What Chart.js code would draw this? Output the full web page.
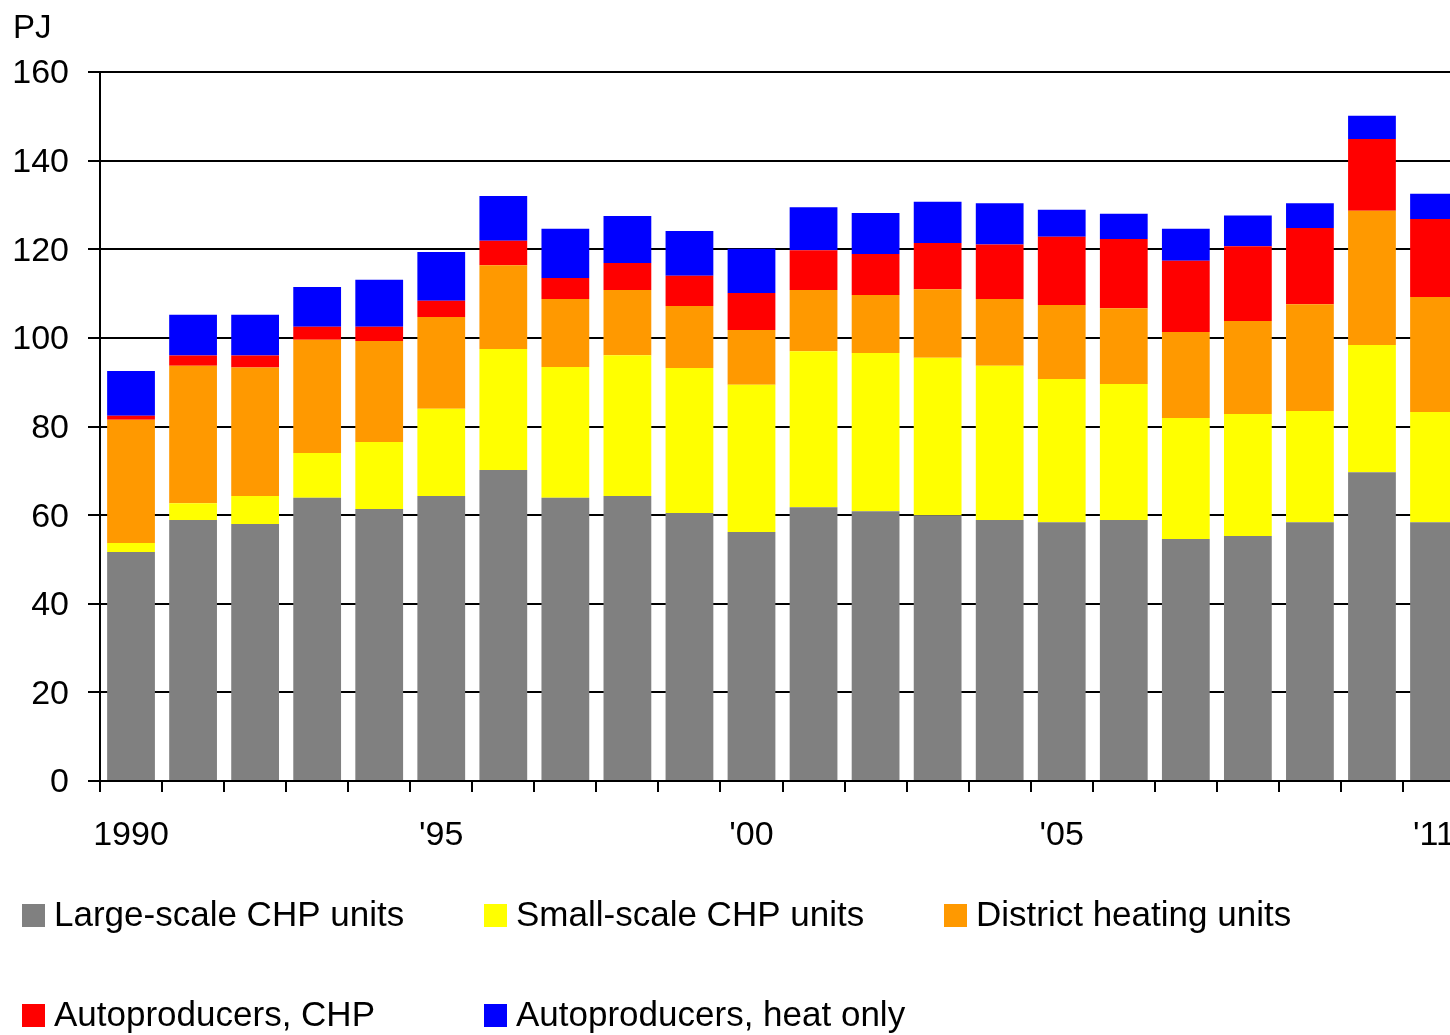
<!DOCTYPE html>
<html>
<head>
<meta charset="utf-8">
<title>Heat production by producer type, 1990–2011</title>
<script src="https://cdn.jsdelivr.net/npm/chart.js@4/dist/chart.umd.min.js"></script>
<style>
  html, body { margin: 0; padding: 0; background: #fff; overflow: hidden; }
  #wrap { width: 1450px; height: 1035px; overflow: hidden; }
  canvas { display: block; }
</style>
</head>
<body>
<div id="wrap"><canvas id="chart" width="1478" height="1035"></canvas></div>
<script>
// Years on the category axis
const years = ["1990","1991","1992","1993","1994","1995","1996","1997","1998","1999","2000",
               "2001","2002","2003","2004","2005","2006","2007","2008","2009","2010","2011"];

// Labels printed under the axis (only some years are named)
const yearLabels = ["1990","","","","","'95","","","","","'00",
                    "","","","","'05","","","","","","'11"];

// Heat production, PJ
const largeScaleCHP = [51.7,58.9,58.0,63.9,61.4,64.3,70.2,63.9,64.3,60.5,56.2,
                       61.8,60.9,60.0,58.9,58.4,58.9,54.6,55.3,58.4,69.7,58.4];
const smallScaleCHP = [2.0,3.8,6.3,10.1,15.1,19.7,27.3,29.5,31.8,32.7,33.2,
                       35.2,35.7,35.5,34.8,32.3,30.7,27.3,27.5,25.1,28.7,24.9];
const districtHeating = [27.8,31.0,29.0,25.6,22.8,20.7,18.9,15.4,14.7,14.0,12.4,
                         13.8,13.1,15.5,15.1,16.7,17.1,19.4,21.0,24.1,30.3,25.9];
const autoproducersCHP = [0.9,2.3,2.7,2.9,3.2,3.7,5.5,4.7,6.1,6.8,8.3,
                          9.0,9.2,10.4,12.3,15.4,15.6,16.1,16.9,17.2,16.2,17.6];
const autoproducersHeat = [10.1,9.2,9.2,9.0,10.6,11.0,10.1,11.1,10.6,10.1,10.0,
                           9.7,9.3,9.3,9.3,6.1,5.7,7.2,6.9,5.6,5.2,5.7];

const seriesNames = ["Large-scale CHP units","Small-scale CHP units","District heating units",
                     "Autoproducers, CHP","Autoproducers, heat only"];
const seriesColors = ["#808080","#FFFF00","#FF9900","#FF0000","#0000FF"];
const seriesValues = [largeScaleCHP, smallScaleCHP, districtHeating, autoproducersCHP, autoproducersHeat];

const FONT = '"Liberation Sans", Arial, Helvetica, sans-serif';

// Unit caption above the value axis
const unitCaption = {
  id: 'unitCaption',
  afterDraw(chart) {
    const ctx = chart.ctx;
    ctx.save();
    ctx.fillStyle = '#000';
    ctx.font = '33px ' + FONT;
    ctx.textAlign = 'left';
    ctx.textBaseline = 'alphabetic';
    ctx.fillText('PJ', 13, 38);
    ctx.restore();
  }
};

// Legend laid out as a fixed three-column grid below the axis
const gridLegend = {
  id: 'gridLegend',
  afterDraw(chart) {
    const ctx = chart.ctx;
    const cols = [22, 484, 944];
    const rows = [904, 1004];
    const box = 23;
    ctx.save();
    ctx.font = '35px ' + FONT;
    ctx.textAlign = 'left';
    ctx.textBaseline = 'alphabetic';
    chart.data.datasets.forEach((ds, i) => {
      const x = cols[i % 3];
      const y = rows[Math.floor(i / 3)];
      ctx.fillStyle = ds.backgroundColor;
      ctx.fillRect(x, y, box, box);
      ctx.fillStyle = '#000';
      ctx.fillText(ds.label, x + 32, y + 22);
    });
    ctx.restore();
  }
};

new Chart(document.getElementById('chart'), {
  type: 'bar',
  data: {
    labels: years,
    datasets: seriesValues.map((vals, i) => ({
      label: seriesNames[i],
      data: vals,
      backgroundColor: seriesColors[i],
      borderWidth: 0,
      barPercentage: 0.77,
      categoryPercentage: 1.0
    }))
  },
  options: {
    responsive: false,
    animation: false,
    devicePixelRatio: 1,
    layout: { padding: { left: 0, top: 72, right: 4, bottom: 174 } },
    plugins: {
      legend: { display: false },
      tooltip: { enabled: false },
      title: { display: false }
    },
    scales: {
      x: {
        stacked: true,
        offset: true,
        afterFit(scale) { scale.height = 80; },
        grid: {
          offset: true,
          drawOnChartArea: false,
          drawTicks: true,
          tickLength: 11,
          color: '#000',
          lineWidth: 2
        },
        border: { display: true, color: '#000', width: 2 },
        ticks: {
          autoSkip: false,
          maxRotation: 0,
          minRotation: 0,
          padding: 23,
          color: '#000',
          font: { family: FONT, size: 34 },
          callback: (value, index) => yearLabels[index]
        }
      },
      y: {
        stacked: true,
        min: 0,
        max: 160,
        afterFit(scale) { scale.width = 100; },
        grid: {
          color: '#000',
          lineWidth: 2,
          drawTicks: true,
          tickLength: 12
        },
        border: { display: true, color: '#000', width: 2 },
        ticks: {
          stepSize: 20,
          padding: 19,
          labelOffset: 2,
          color: '#000',
          font: { family: FONT, size: 34 }
        }
      }
    }
  },
  plugins: [unitCaption, gridLegend]
});
</script>
</body>
</html>
